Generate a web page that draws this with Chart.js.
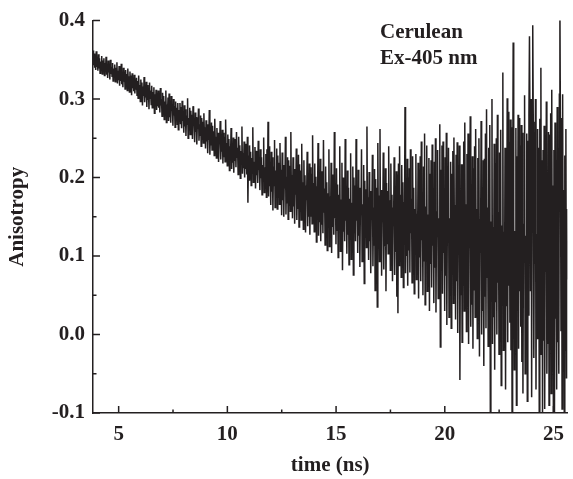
<!DOCTYPE html>
<html>
<head>
<meta charset="utf-8">
<script src="https://cdn.jsdelivr.net/npm/chart.js@4.4.1/dist/chart.umd.min.js"></script>
<style>
  html, body { margin: 0; padding: 0; background: #ffffff; }
  #c { display: block; }
</style>
</head>
<body>
<canvas id="c" width="573" height="479"></canvas>
<script>
// ---- data ----
const timeStart = 3.82;   // ns, first sample
const timeStep = 0.025;   // ns, sampling interval
const anisotropy = [
  .362,.343,.358,.340,.355,.337,.361,.341,.350,.336,.357,.339,.352,.333,.348,.338,.355,.332,.349,.337,
  .352,.330,.346,.335,.354,.331,.342,.327,.349,.334,.344,.325,.350,.332,.341,.329,.346,.323,.339,.331,
  .344,.322,.340,.326,.347,.320,.336,.324,.342,.317,.338,.323,.345,.319,.333,.315,.340,.322,.335,.313,
  .337,.318,.332,.311,.339,.320,.329,.309,.335,.316,.330,.305,.333,.314,.327,.310,.331,.307,.325,.312,
  .327,.305,.323,.301,.330,.308,.318,.297,.325,.303,.321,.292,.316,.304,.328,.296,.313,.302,.322,.290,
  .318,.299,.313,.287,.321,.301,.311,.293,.317,.289,.309,.297,.315,.282,.306,.292,.312,.286,.304,.291,
  .311,.289,.307,.283,.314,.292,.300,.278,.308,.286,.304,.274,.297,.282,.311,.270,.293,.281,.302,.272,
  .307,.277,.296,.270,.304,.285,.293,.266,.300,.279,.291,.264,.297,.275,.289,.268,.295,.261,.286,.272,
  .295,.268,.290,.263,.298,.272,.284,.257,.292,.265,.287,.253,.279,.268,.301,.250,.276,.261,.289,.255,
  .285,.259,.280,.249,.291,.266,.272,.245,.283,.258,.277,.242,.271,.262,.288,.247,.268,.254,.279,.240,
  .276,.249,.271,.244,.282,.252,.264,.237,.273,.246,.268,.231,.260,.248,.286,.229,.256,.241,.270,.235,
  .266,.238,.259,.228,.275,.244,.252,.225,.263,.239,.257,.220,.249,.243,.272,.223,.246,.233,.261,.218,
  .257,.226,.252,.220,.274,.231,.244,.215,.255,.227,.249,.209,.240,.224,.263,.211,.237,.219,.251,.206,
  .249,.221,.245,.213,.258,.226,.238,.204,.252,.218,.241,.199,.234,.222,.265,.205,.231,.212,.246,.200,
  .243,.211,.237,.204,.252,.168,.228,.197,.241,.209,.233,.190,.225,.206,.264,.194,.220,.201,.239,.186,
  .234,.203,.229,.193,.247,.210,.219,.184,.236,.199,.226,.178,.216,.204,.251,.181,.213,.192,.230,.175,
  .236,.181,.271,.176,.240,.189,.220,.165,.233,.182,.226,.158,.214,.190,.248,.162,.209,.177,.237,.160,
  .228,.175,.219,.166,.244,.183,.210,.152,.232,.171,.216,.150,.204,.186,.252,.153,.201,.168,.226,.147,
  .222,.165,.215,.157,.258,.174,.203,.148,.226,.163,.211,.141,.200,.178,.237,.146,.196,.160,.229,.137,
  .217,.158,.209,.146,.243,.168,.194,.134,.222,.153,.203,.130,.190,.171,.233,.138,.187,.150,.218,.127,
  .213,.150,.205,.141,.254,.162,.193,.131,.218,.147,.201,.118,.189,.168,.244,.126,.184,.143,.224,.119,
  .208,.140,.198,.129,.248,.156,.186,.114,.214,.137,.194,.107,.180,.160,.236,.112,.176,.134,.219,.104,
  .204,.137,.195,.127,.258,.148,.184,.115,.212,.133,.191,.098,.178,.157,.240,.106,.172,.129,.219,.082,
  .200,.131,.189,.119,.249,.145,.180,.103,.209,.127,.187,.089,.173,.152,.231,.096,.168,.121,.214,.076,
  .200,.130,.190,.119,.249,.145,.179,.104,.210,.126,.187,.086,.172,.152,.236,.093,.166,.121,.216,.065,
  .196,.124,.185,.111,.265,.141,.175,.095,.207,.119,.183,.078,.168,.146,.229,.087,.162,.114,.211,.056,
  .198,.122,.187,.035,.244,.138,.177,.093,.262,.118,.184,.075,.166,.143,.232,.083,.160,.112,.212,.055,
  .193,.116,.183,.103,.240,.133,.171,.082,.218,.110,.178,.068,.162,.138,.226,.076,.156,.105,.208,.048,
  .204,.027,.218,.088,.240,.136,.178,.073,.216,.110,.194,.060,.169,.137,.290,.078,.162,.100,.224,.062,
  .200,.107,.212,.079,.236,.129,.173,.066,.227,.103,.187,.052,.160,.127,.230,.070,.154,.092,.219,.046,
  .210,.098,.227,.068,.246,.120,.174,.050,.214,.094,.256,.038,.163,.132,.241,.055,.153,.080,.225,.030,
  .205,.090,.222,.060,.242,.113,.168,.040,.220,.085,.250,.028,.157,.125,.235,.046,.148,.072,.268,-.016,
  .210,.083,.241,.052,.246,.104,.171,.030,.226,.075,.257,.012,.160,.120,.238,.022,.148,.058,.220,.008,
  .205,.077,.234,.040,.251,.099,.165,.019,.229,.068,.245,.002,.153,.113,.241,-.058,.142,.050,.217,-.010,
  .217,.063,.246,.030,.270,.090,.166,.004,.230,.050,.256,-.012,.152,.110,.278,.010,.141,.038,.227,-.018,
  .212,.057,.240,.022,.262,.083,.160,-.005,.225,.042,.250,-.028,.147,.104,.272,.000,.136,.030,.222,-.040,
  .224,.048,.256,.008,.287,.073,.162,-.015,.238,.033,.267,-.100,.144,.104,.300,-.012,.137,.022,.243,-.045,
  .218,.041,.250,.000,.280,.066,.156,-.025,.232,.026,.261,-.065,.139,.097,.334,-.020,.131,.014,.238,-.070,
  .233,.036,.301,-.010,.284,.062,.245,.015,.274,-.020,.264,-.100,.147,.372,.152,-.045,.132,.008,.263,-.090,
  .227,.030,.280,-.018,.276,.055,.241,.010,.267,-.035,.257,-.075,.141,.092,.305,-.050,.126,.000,.256,-.085,
  .247,.025,.280,.380,.258,.055,.300,-.080,.242,.394,.271,-.030,.150,.090,.300,-.070,.128,-.005,.262,.040,
  .238,-.100,.275,-.025,.340,.048,.222,-.100,.235,-.008,.266,-.095,.145,.080,.297,-.050,.121,-.012,.258,-.090,
  .255,.010,.282,-.075,.312,.042,.190,-.100,.235,-.100,.270,.020,.152,-.070,.290,-.010,.130,-.050,.306,.420,
  .248,.005,.276,-.095,.306,.036,.184,-.100,.228,-.020,.262,-.055,.160,.070,.298,-.060,.118,-.015,.272,-.080
];
const xTicks = [5, 10, 15, 20, 25];
const xMinorTicks = [7.5, 12.5, 17.5, 22.5];
const yTicks = [-0.1, 0.0, 0.1, 0.2, 0.3, 0.4];
const yMinorTicks = [-0.05, 0.05, 0.15, 0.25, 0.35];
const annotationLines = ['Cerulean', 'Ex-405 nm'];
const xTitle = 'time (ns)';
const yTitle = 'Anisotropy';

// ---- build ----
const INK = '#231f20';
const FONT_FAMILY = '"Liberation Serif", "Times New Roman", serif';
const times = anisotropy.map((_, i) => +(timeStart + i * timeStep).toFixed(3));
const points = times.map((t, i) => ({ x: t, y: anisotropy[i] }));

const inwardTicks = {
  id: 'inwardTicks',
  afterDatasetsDraw(chart) {
    const { ctx, chartArea, scales } = chart;
    const xs = scales.x, ys = scales.y;
    ctx.save();
    ctx.strokeStyle = INK;
    ctx.lineWidth = 1.5;
    ctx.beginPath();
    xTicks.forEach(v => { const p = xs.getPixelForValue(v); ctx.moveTo(p, chartArea.bottom); ctx.lineTo(p, chartArea.bottom - 7); });
    xMinorTicks.forEach(v => { const p = xs.getPixelForValue(v); ctx.moveTo(p, chartArea.bottom); ctx.lineTo(p, chartArea.bottom - 3.5); });
    yTicks.forEach(v => { const p = ys.getPixelForValue(v); ctx.moveTo(chartArea.left, p); ctx.lineTo(chartArea.left + 7, p); });
    yMinorTicks.forEach(v => { const p = ys.getPixelForValue(v); ctx.moveTo(chartArea.left, p); ctx.lineTo(chartArea.left + 3.5, p); });
    ctx.stroke();
    ctx.fillStyle = INK;
    ctx.font = 'bold 21px ' + FONT_FAMILY;
    ctx.textAlign = 'left';
    ctx.textBaseline = 'alphabetic';
    ctx.fillText(annotationLines[0], 380, 38);
    ctx.fillText(annotationLines[1], 380, 64);
    ctx.restore();
  }
};

new Chart(document.getElementById('c'), {
  type: 'line',
  data: {
    datasets: [{
      data: points,
      borderColor: INK,
      borderWidth: 1.5,
      pointRadius: 0,
      tension: 0,
      fill: false
    }]
  },
  options: {
    responsive: false,
    animation: false,
    devicePixelRatio: 1,
    layout: { padding: { top: 19, right: 0, bottom: 0, left: 0 } },
    plugins: { legend: { display: false }, tooltip: { enabled: false } },
    scales: {
      x: {
        type: 'linear',
        min: 3.82,
        max: 25.64,
        afterBuildTicks(s) { s.ticks = xTicks.map(v => ({ value: v })); },
        afterFit(s) { s.height = 66; },
        grid: { display: true, drawOnChartArea: false, drawTicks: false },
        border: { display: true, color: INK, width: 1.5 },
        ticks: {
          color: INK,
          padding: 9,
          font: { family: FONT_FAMILY, size: 21, weight: 'bold' },
          callback: v => String(v)
        },
        title: {
          display: true, text: xTitle, color: INK,
          font: { family: FONT_FAMILY, size: 21, weight: 'bold' },
          padding: { top: 0, bottom: 1 }
        }
      },
      y: {
        type: 'linear',
        min: -0.1,
        max: 0.4,
        afterBuildTicks(s) { s.ticks = yTicks.map(v => ({ value: v })); },
        afterFit(s) { s.width = 93; },
        grid: { display: true, drawOnChartArea: false, drawTicks: false },
        border: { display: true, color: INK, width: 1.5 },
        ticks: {
          color: INK,
          padding: 8,
          font: { family: FONT_FAMILY, size: 21, weight: 'bold' },
          callback: v => v.toFixed(1)
        },
        title: {
          display: true, text: yTitle, color: INK,
          font: { family: FONT_FAMILY, size: 21, weight: 'bold' },
          padding: { top: 5, bottom: 0 }
        }
      }
    }
  },
  plugins: [inwardTicks]
});
</script>
</body>
</html>
